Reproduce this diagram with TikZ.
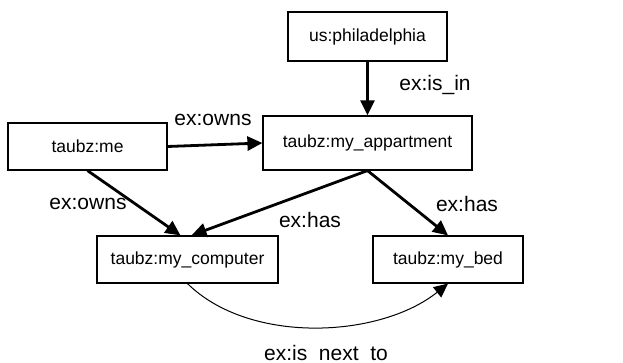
\documentclass[tikz,border=0pt]{standalone}
\usepackage{fontspec}
\setmainfont{Liberation Sans}
\usetikzlibrary{arrows.meta}
\begin{document}
\begin{tikzpicture}[x=1pt,y=-1pt,
  box/.style={draw,line width=1.2pt,inner sep=0pt,font=\fontsize{17.5}{20}\selectfont},
  rel/.style={line width=2.8pt,-{Triangle[length=15pt,width=14pt]}},
  thinrel/.style={line width=1pt,-{Triangle[length=14pt,width=13pt]}},
  lab/.style={font=\fontsize{21}{24}\selectfont,inner sep=0pt}]
\useasboundingbox (0,0) rectangle (623,363);
\node[box,minimum width=159pt,minimum height=49pt] (phil) at (367.5,36.5) {us:philadelphia};
\node[box,minimum width=159pt,minimum height=47pt] (me) at (87.5,146.5) {taubz:me};
\node[box,minimum width=209pt,minimum height=54pt] (app) at (367.5,143) {taubz:my\_appartment};
\node[box,minimum width=181pt,minimum height=47pt] (comp) at (187.5,259.5) {taubz:my\_computer};
\node[box,minimum width=150pt,minimum height=47pt] (bed) at (448,259.5) {taubz:my\_bed};
\draw[rel] (phil.south) -- (app.north);
\draw[rel] (me.east) -- (app.west);
\draw[rel] (me.south) -- ([xshift=-7pt]comp.north);
\draw[rel] (app.south) -- ([xshift=4pt]comp.north);
\draw[rel] (app.south) -- (bed.north);
\draw[thinrel] (comp.south) .. controls (250,345) and (380,338) .. (bed.south);
\node[lab] (l1) at (435,85) {ex:is\_in};
\node[lab] (l2) at (213,120) {ex:owns};
\node[lab] (l3) at (88,204) {ex:owns};
\node[lab] (l4) at (310,220) {ex:has};
\node[lab] (l5) at (467,204) {ex:has};
\node[lab,anchor=base] (l6) at (326,360) {ex:is\phantom{\_}next\phantom{\_}to};
\end{tikzpicture}
\end{document}
